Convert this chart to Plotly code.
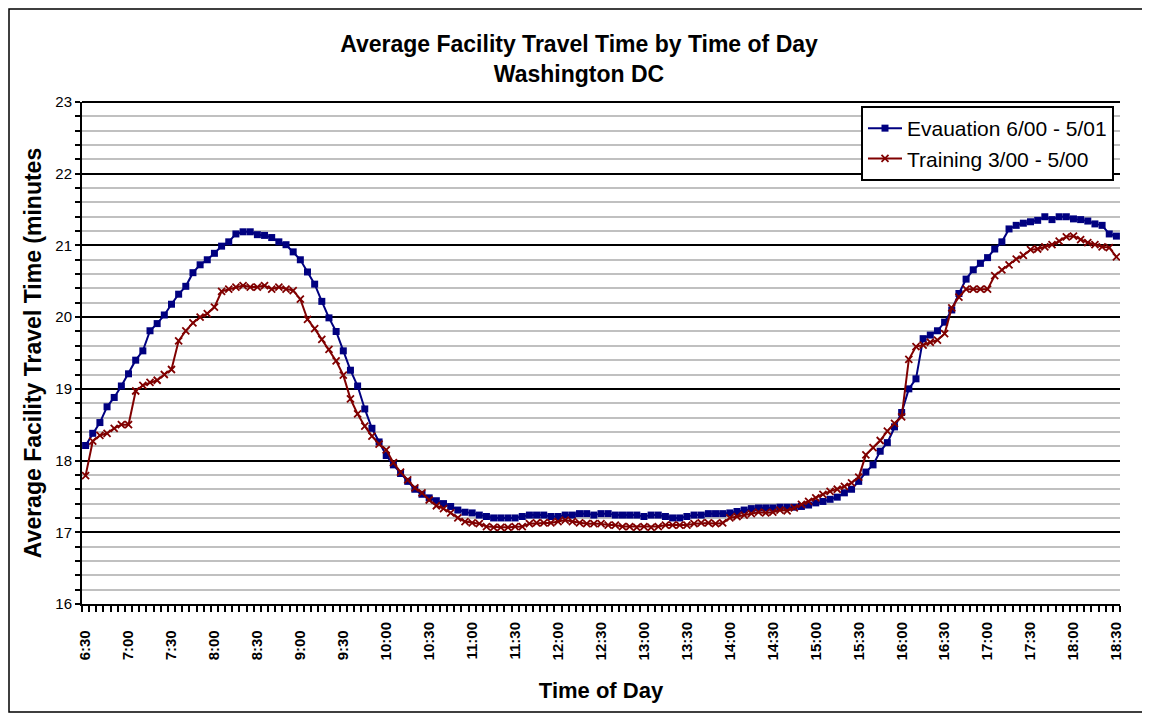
import plotly.graph_objects as go

# ---------------- data ----------------
tick_labels = ["6:30", "7:00", "7:30", "8:00", "8:30", "9:00", "9:30", "10:00",
               "10:30", "11:00", "11:30", "12:00", "12:30", "13:00", "13:30",
               "14:00", "14:30", "15:00", "15:30", "16:00", "16:30", "17:00",
               "17:30", "18:00", "18:30"]

# 5-minute samples from 6:30 to 18:30
evaluation = [
    18.21, 18.38, 18.53, 18.75, 18.88, 19.04, 19.21, 19.40, 19.53, 19.81,
    19.91, 20.03, 20.18, 20.32, 20.43, 20.62, 20.73, 20.80, 20.89, 20.99,
    21.05, 21.16, 21.19, 21.19, 21.15, 21.14, 21.11, 21.05, 21.01, 20.91,
    20.80, 20.63, 20.46, 20.22, 19.99, 19.80, 19.53, 19.26, 19.04, 18.72,
    18.45, 18.26, 18.07, 17.94, 17.82, 17.71, 17.60, 17.53, 17.48, 17.44,
    17.40, 17.36, 17.31, 17.28, 17.27, 17.24, 17.22, 17.20, 17.20, 17.20,
    17.20, 17.22, 17.24, 17.24, 17.24, 17.22, 17.22, 17.24, 17.24, 17.26,
    17.26, 17.24, 17.26, 17.26, 17.24, 17.24, 17.24, 17.24, 17.22, 17.24,
    17.24, 17.22, 17.20, 17.20, 17.22, 17.24, 17.24, 17.26, 17.26, 17.26,
    17.27, 17.29, 17.31, 17.33, 17.34, 17.34, 17.34, 17.35, 17.35, 17.35,
    17.36, 17.38, 17.41, 17.43, 17.46, 17.49, 17.55, 17.60, 17.71, 17.84,
    17.94, 18.13, 18.25, 18.47, 18.67, 19.00, 19.14, 19.70, 19.75, 19.81,
    19.93, 20.10, 20.33, 20.53, 20.66, 20.75, 20.83, 20.95, 21.05, 21.23,
    21.28, 21.31, 21.33, 21.35, 21.40, 21.36, 21.40, 21.40, 21.37, 21.36,
    21.34, 21.30, 21.28, 21.16, 21.13]

training = [
    17.79, 18.27, 18.35, 18.38, 18.45, 18.50, 18.50, 18.97, 19.05, 19.09,
    19.12, 19.20, 19.27, 19.67, 19.81, 19.92, 20.00, 20.05, 20.14, 20.36,
    20.39, 20.42, 20.44, 20.42, 20.42, 20.44, 20.39, 20.42, 20.39, 20.37,
    20.25, 19.97, 19.84, 19.69, 19.55, 19.39, 19.19, 18.86, 18.65, 18.48,
    18.34, 18.23, 18.15, 17.97, 17.84, 17.73, 17.62, 17.55, 17.45, 17.37,
    17.33, 17.27, 17.20, 17.15, 17.13, 17.12, 17.08, 17.07, 17.07, 17.07,
    17.08, 17.08, 17.12, 17.13, 17.13, 17.13, 17.15, 17.17, 17.15, 17.13,
    17.12, 17.12, 17.12, 17.10, 17.10, 17.08, 17.08, 17.07, 17.08, 17.07,
    17.08, 17.10, 17.10, 17.10, 17.10, 17.12, 17.13, 17.13, 17.12, 17.13,
    17.20, 17.22, 17.24, 17.26, 17.28, 17.27, 17.28, 17.31, 17.30, 17.34,
    17.39, 17.43, 17.48, 17.53, 17.57, 17.60, 17.64, 17.69, 17.77, 18.08,
    18.18, 18.28, 18.41, 18.52, 18.61, 19.41, 19.59, 19.61, 19.65, 19.68,
    19.77, 20.13, 20.28, 20.39, 20.39, 20.39, 20.39, 20.58, 20.66, 20.73,
    20.81, 20.86, 20.94, 20.95, 20.98, 21.01, 21.06, 21.12, 21.13, 21.08,
    21.04, 21.01, 20.98, 20.97, 20.84]

series_names = ["Evauation 6/00 - 5/01", "Training 3/00 - 5/00"]

# ---------------- figure ----------------
OFF = 8  # page body margin
W, H = 1150 - OFF, 715 - OFF
ML, MT = 82 - OFF, 102 - OFF
PW, PH = 1038, 502
MR, MB = W - ML - PW, H - MT - PH

idx = list(range(len(evaluation)))
label_step = 6
tick_pos = idx[::label_step]
max_len = max(len(s) for s in tick_labels)
tick_text = [s + "\u00a0" * (2 * (max_len - len(s))) for s in tick_labels]

FONT = "Arial, 'Liberation Sans', sans-serif"
BLUE = "#000080"
RED = "#800000"

fig = go.Figure()
fig.add_trace(go.Scatter(
    x=idx, y=evaluation, name=series_names[0], mode="lines+markers",
    line=dict(color=BLUE, width=2),
    marker=dict(symbol="square", size=7, color=BLUE),
))
fig.add_trace(go.Scatter(
    x=idx, y=training, name=series_names[1], mode="lines+markers",
    line=dict(color=RED, width=2),
    marker=dict(symbol="x-thin", size=7, color=RED,
                line=dict(color=RED, width=1.8)),
))


def px_x(p):  # page pixel -> paper x
    return (p - OFF - ML) / PW


def px_y(p):  # page pixel -> paper y
    return (MT + PH - (p - OFF)) / PH


fig.update_layout(
    width=W, height=H,
    margin=dict(l=ML, r=MR, t=MT, b=MB, autoexpand=False),
    paper_bgcolor="white", plot_bgcolor="white",
    font=dict(family=FONT, color="black"),
    title=dict(
        text="<b>Average Facility Travel Time by Time of Day<br>Washington DC</b>",
        font=dict(size=23, family=FONT, color="black"),
        x=0.5, xref="container", xanchor="center",
        y=1 - 44 / H, yref="container", yanchor="top",
    ),
    showlegend=True,
    legend=dict(
        x=px_x(1114), xanchor="right", y=px_y(106), yanchor="top",
        bgcolor="white", bordercolor="black", borderwidth=2,
        font=dict(size=21, family=FONT, color="black"),
        tracegroupgap=0, itemwidth=34,
    ),
    xaxis=dict(
        range=[-0.5, len(idx) - 0.5],
        tickmode="array", tickvals=tick_pos, ticktext=tick_text,
        tickangle=-90,
        tickfont=dict(size=15, family=FONT, color="black", weight="bold"),
        ticks="outside", ticklen=6, tickcolor="rgba(0,0,0,0)",
        ticklabelstandoff=4,
        minor=dict(tickmode="linear", tick0=-0.5, dtick=1, ticks="outside",
                   ticklen=6, tickwidth=1.5, tickcolor="black", showgrid=False),
        showline=True, linecolor="black", linewidth=2,
        showgrid=False, zeroline=False,
        title=dict(text="<b>Time of Day</b>",
                   font=dict(size=22, family=FONT, color="black"),
                   standoff=23),
        automargin=False,
    ),
    yaxis=dict(
        range=[16, 23], dtick=1, tick0=16,
        tickfont=dict(size=15, family=FONT, color="black"),
        ticks="outside", ticklen=5, tickwidth=1.5, tickcolor="black",
        showline=True, linecolor="black", linewidth=2,
        showgrid=True, gridcolor="black", gridwidth=2,
        zeroline=False,
        minor=dict(dtick=0.2, ticks="outside", ticklen=5, tickwidth=1.5,
                   tickcolor="black", showgrid=True, gridcolor="#c0c0c0",
                   gridwidth=1.5),
        title=dict(text="<b>Average Facility Travel Time (minutes</b>",
                   font=dict(size=23, family=FONT, color="black"), standoff=7),
        automargin=False,
    ),
    shapes=[
        dict(type="rect", xref="paper", yref="paper",
             x0=px_x(OFF + 1), x1=px_x(1147), y0=px_y(712), y1=px_y(OFF + 1),
             line=dict(color="black", width=1.5), fillcolor="rgba(0,0,0,0)",
             layer="below"),
        dict(type="line", xref="paper", yref="paper",
             x0=0, x1=1, y0=1, y1=1, line=dict(color="black", width=2)),
    ],
)

fig.write_html("out.html")
